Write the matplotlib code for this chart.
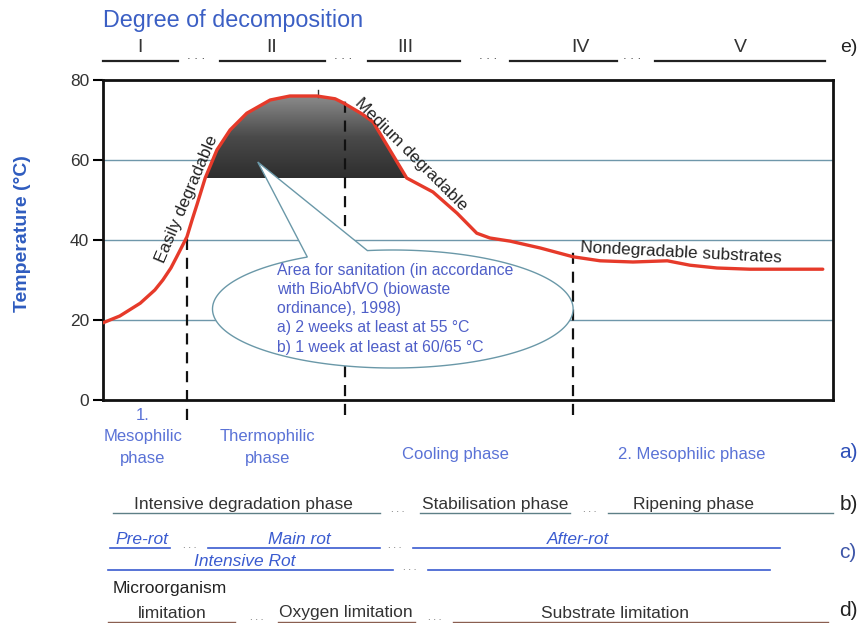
import numpy as np
import matplotlib
matplotlib.use("Agg")
import matplotlib.pyplot as plt
from matplotlib.lines import Line2D
from matplotlib.patches import Polygon
from matplotlib.colors import LinearSegmentedColormap

plt.rcParams['font.family'] = ['Liberation Sans', 'DejaVu Sans']

# ---------------- data ----------------
time = [0.0, 2.3, 5.1, 7.1, 8.2, 9.3, 10.1, 11.5, 12.2, 12.9, 14.0, 14.8, 15.6, 17.4,
        19.7, 22.9, 25.6, 29.3, 31.8, 32.9, 35.5, 37.0, 39.3, 41.6, 45.2, 48.5, 51.2,
        53.0, 55.8, 59.9, 64.4, 68.1, 72.6, 77.3, 80.4, 84.1, 88.6, 98.6]
temp = [19.3, 21.0, 24.2, 27.5, 30.0, 33.0, 35.8, 40.8, 45.0, 49.0, 55.5, 59.0, 62.5, 67.5,
        71.7, 75.0, 76.0, 76.0, 75.3, 74.3, 71.5, 69.5, 62.5, 55.5, 52.0, 46.7, 41.7,
        40.5, 39.7, 38.0, 35.8, 34.8, 34.5, 34.8, 33.7, 33.0, 32.7, 32.7]
sanitation_temp = 55.5
phase_bounds = [11.5, 33.15, 64.4]
yticks = [0, 20, 40, 60, 80]

degree_labels = ["I", "II", "III", "IV", "V"]
phase_labels_a = ["1.\nMesophilic\nphase", "Thermophilic\nphase", "Cooling phase", "2. Mesophilic phase"]
labels_b = ["Intensive degradation phase", "Stabilisation phase", "Ripening phase"]
labels_c1 = ["Pre-rot", "Main rot", "After-rot"]
labels_c2 = ["Intensive Rot", ""]
labels_d = ["limitation", "Oxygen limitation", "Substrate limitation"]
callout_lines = ["Area for sanitation (in accordance", "with BioAbfVO (biowaste",
                 "ordinance), 1998)", "a) 2 weeks at least at 55 °C", "b) 1 week at least at 60/65 °C"]

W, H = 863, 623
fig = plt.figure(figsize=(W / 100, H / 100), dpi=100)
fig.patch.set_facecolor("white")


def P(x, y):
    return (x / W, 1 - y / H)


def ftext(x, y, s, **kw):
    kw.setdefault("ha", "center")
    kw.setdefault("va", "center")
    fig.text(*P(x, y), s, **kw)


def fline(x0, x1, y, color, lw=1.0):
    (a, b), (c, d) = P(x0, y), P(x1, y)
    fig.add_artist(Line2D([a, c], [b, d], color=color, lw=lw, transform=fig.transFigure))


ax = fig.add_axes([103 / W, (H - 400) / H, 730 / W, 320 / H])
ax.set_xlim(0, 100)
ax.set_ylim(0, 80)
ax.set_xticks([])
ax.set_yticks(yticks)
ax.tick_params(axis="y", length=7, width=1.5, labelsize=12.5, labelcolor="#333333", pad=3)
for s in ax.spines.values():
    s.set_linewidth(2.0)
    s.set_color("#111111")
for g in yticks[1:-1]:
    ax.axhline(g, color="#6f97aa", lw=1.0, zorder=1)
ax.set_ylabel("Temperature (°C)", fontsize=14, fontweight="bold", color="#2f5cbf")
ax.yaxis.set_label_coords(-0.098, 0.52)

t = np.array(time)
T = np.array(temp)

# gradient fill of sanitation area
mask = T >= sanitation_temp
clip = Polygon(list(zip(t[mask], T[mask])), closed=True, facecolor="none",
               edgecolor="none", transform=ax.transData)
ax.add_patch(clip)
grad = np.linspace(0, 1, 100)[:, None]
cmap = LinearSegmentedColormap.from_list("g", ["#2e2e2e", "#4a4a4a", "#8a8a8a"])
im = ax.imshow(grad, extent=[t[mask].min(), t[mask].max(), sanitation_temp, T.max()],
               origin="lower", cmap=cmap, aspect="auto", zorder=2)
im.set_clip_path(clip)

# curve
ax.plot(t, T, color="#e63a2a", lw=2.4, zorder=4, solid_capstyle="round",
        solid_joinstyle="round")

# dashed phase boundaries
dash_tops = [40.8, 75.5, 38.25]
dash_bottoms = [-5.0, -3.75, -3.75]
for xb, y0, y1 in zip(phase_bounds, dash_tops, dash_bottoms):
    ax.plot([xb, xb], [y1, y0], color="#111111", lw=1.6, ls=(0, (5, 3.5)),
            clip_on=False, zorder=3)

# callout (ellipse with pointer)
cx, cy, a, b = 39.7, 22.75, 24.7, 14.75
tip = (21.2, 59.5)
t1 = np.deg2rad(118.3)
t2 = np.deg2rad(98.1)
th = np.linspace(t2, t1 - 2 * np.pi, 300)
ell = [(cx + a * np.cos(v), cy + b * np.sin(v)) for v in th]
callout = Polygon([tip] + ell, closed=True, facecolor="white", edgecolor="#6a98a8",
                  lw=1.0, zorder=5)
ax.add_patch(callout)
for i, s in enumerate(callout_lines):
    ftext(277, 270 + i * 19.3, s, ha="left", fontsize=11.3, color="#4f5fc8", zorder=6)

# rotated labels
ax.text(11.5, 50.3, "Easily degradable", rotation=67, fontsize=12.3, color="#222222",
        ha="center", va="center", zorder=6)
ax.text(42.2, 61.5, "Medium degradable", rotation=-45, fontsize=12.3, color="#222222",
        ha="center", va="center", zorder=6)
ax.text(79.2, 36.9, "Nondegradable substrates", rotation=-3, fontsize=12.3, color="#222222",
        ha="center", va="center", zorder=6)
ax.plot([29.5, 29.5], [75.8, 77.5], color="#333333", lw=1)

# ---------------- top row e) ----------------
ftext(103, 20, "Degree of decomposition", ha="left", fontsize=16.8, color="#3b5fc4")
seg_e = [(103, 178), (220, 325), (368, 460), (510, 617), (655, 825)]
cen_e = [140, 272, 405, 580, 740]
for (x0, x1), c, lab in zip(seg_e, cen_e, degree_labels):
    fline(x0, x1, 61, "#222222", 1.6)
    ftext(c, 47, lab, fontsize=14, color="#333333")
for x in [196, 343, 488, 632]:
    ftext(x, 56, ". . .", fontsize=9.5, color="#444444")
ftext(849, 47, "e)", fontsize=14, color="#222222")

# ---------------- row a) ----------------
blue_a = "#5a72d6"
pos_a = [(143, 415), (267.5, 437), (455, 455), (691.5, 455)]
for (x, y), lab in zip(pos_a, phase_labels_a):
    for k, line in enumerate(lab.split("\n")):
        ftext(x, y + k * 21.5, line, fontsize=12, color=blue_a)
ftext(848, 453, "a)", fontsize=15, color="#2e4fb8")

# ---------------- row b) ----------------
seg_b = [(113, 380), (420, 570), (608, 833)]
cen_b = [243.5, 495, 693.5]
for (x0, x1), c, lab in zip(seg_b, cen_b, labels_b):
    fline(x0, x1, 513, "#5d7f86", 1.0)
    ftext(c, 504, lab, fontsize=12.5, color="#333333")
for x in [398, 590]:
    ftext(x, 509, ". . .", fontsize=7, color="#555555")
ftext(849, 504, "b)", fontsize=15, color="#222222")

# ---------------- row c) ----------------
blue_c = "#3a5bd0"
seg_c1 = [(110, 170), (208, 380), (413, 780)]
cen_c1 = [142, 299, 578]
for (x0, x1), c, lab in zip(seg_c1, cen_c1, labels_c1):
    fline(x0, x1, 548, blue_c, 1.2)
    ftext(c, 540, lab, fontsize=12.5, color=blue_c, style="italic")
seg_c2 = [(108, 393), (428, 770)]
cen_c2 = [245, 600]
for (x0, x1), c, lab in zip(seg_c2, cen_c2, labels_c2):
    fline(x0, x1, 570, blue_c, 1.2)
    if lab:
        ftext(c, 561, lab, fontsize=12.5, color=blue_c, style="italic")
for x, y in [(190, 545), (395, 545), (410, 567)]:
    ftext(x, y, ". . .", fontsize=7, color="#555555")
ftext(848, 552, "c)", fontsize=15, color="#3d55a8")

# ---------------- row d) ----------------
ftext(113, 588, "Microorganism", ha="left", fontsize=12.5, color="#222222")
seg_d = [(108, 235), (278, 415), (453, 828)]
cen_d = [172, 345.5, 615]
for (x0, x1), c, lab in zip(seg_d, cen_d, labels_d):
    fline(x0, x1, 622, "#8a5e50", 1.0)
    ftext(c, 613, lab, fontsize=12.5, color="#333333")
for x in [257, 435]:
    ftext(x, 617, ". . .", fontsize=7, color="#555555")
ftext(848, 611, "d)", fontsize=15, color="#222222")

fig.savefig("out.png", dpi=100, facecolor="white")
